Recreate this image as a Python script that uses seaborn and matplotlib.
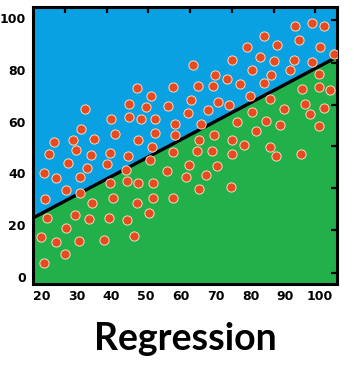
import numpy as np
import pandas as pd
import matplotlib
matplotlib.use("Agg")
import matplotlib.pyplot as plt
import seaborn as sns

# puntos (parte azul, encima de la recta)
x_arriba = [32.4, 45.0, 45.0, 39.9, 31.2, 41.0, 23.5, 28.9, 35.0,
            47.3, 51.4, 57.7, 49.9, 56.3, 48.5, 52.5, 58.3, 52.5, 58.3, 47.6,
            63.5, 74.7, 69.8, 73.2, 69.2, 64.9, 62.9, 70.7, 73.8, 62.0, 67.8, 65.8,
            92.8, 97.7, 101.2, 83.9, 94.0, 79.0, 87.6, 100.0, 82.7, 86.8, 92.5,
            104.0, 97.7, 91.4, 80.4, 85.9, 83.9, 77.0, 79.9,
            51.7, 22.0, 29.8, 34.1, 39.6, 44.8, 27.5, 33.0, 38.7, 20.6, 24.0,
            30.9, 44.2, 26.9, 20.9]
y_arriba = [64.9, 66.8, 61.8, 61.0, 57.1, 55.2, 52.1, 52.9, 53.3,
            73.0, 69.9, 73.4, 65.6, 66.0, 61.0, 61.0, 59.1, 55.6, 54.8, 52.9,
            81.9, 83.8, 78.0, 76.4, 73.7, 73.7, 68.3, 67.6, 66.4, 63.3, 64.5, 59.1,
            96.9, 98.1, 96.9, 93.1, 91.5, 88.8, 89.6, 88.8, 84.9, 83.4, 83.8,
            86.1, 83.0, 79.9, 79.9, 78.0, 74.9, 74.5, 69.9,
            50.2, 47.5, 49.0, 47.1, 47.9, 46.7, 44.0, 42.1, 43.6, 40.2, 38.2,
            38.6, 41.3, 33.6, 30.1]

# puntos de la parte verde, debajo de la recta
x_abajo = [65.2, 69.5, 74.7, 76.1, 99.7, 94.8, 99.7, 102.9, 85.6, 95.7,
           89.6, 101.2, 80.4, 97.1, 84.5, 88.5, 99.7, 81.6, 78.1, 85.6,
           87.3, 94.5, 39.6, 44.5, 30.9, 34.4, 40.4, 21.4, 29.5, 33.5,
           39.3, 44.5, 26.9, 19.7, 24.0, 30.6, 37.8, 46.5, 26.6, 20.6,
           47.6, 51.9, 47.3, 51.9, 57.7, 50.8, 51.1, 57.7, 64.6, 68.9,
           74.7, 62.3, 70.4, 56.0, 61.4, 67.2, 65.2, 74.4]
y_abajo = [52.9, 54.8, 52.9, 59.8, 78.4, 72.6, 73.4, 72.2, 68.7, 66.8,
           64.9, 65.3, 63.7, 62.9, 60.2, 58.7, 58.3, 56.4, 51.0, 50.2,
           46.7, 47.5, 36.3, 37.1, 32.4, 28.6, 30.5, 22.8, 23.9, 22.4,
           22.8, 22.0, 18.9, 15.4, 13.5, 13.9, 14.3, 15.8, 8.9, 5.4,
           36.3, 36.3, 28.6, 30.5, 30.5, 24.7, 45.2, 48.3, 48.6, 48.6,
           47.5, 43.2, 42.9, 40.9, 38.6, 39.4, 34.0, 34.7]

# recta de regresion
intercepto = 10.45
pendiente = 0.71

x_ticks = [20, 30, 40, 50, 60, 70, 80, 90, 100]
y_ticks = [0, 20, 40, 60, 80, 100]
titulo = "Regression"

AZUL = "#0aa1e3"
VERDE = "#22b04b"
ROJO = "#ea4a1f"

sns.set_style("white")
plt.rcParams["text.color"] = "black"
plt.rcParams["xtick.color"] = "black"
plt.rcParams["ytick.color"] = "black"

df = pd.DataFrame({"x": x_arriba + x_abajo, "y": y_arriba + y_abajo})

fig = plt.figure(figsize=(3.54, 3.68), dpi=100)
ax = fig.add_axes([0.093, 0.228, 0.859, 0.753])
xlim = (17.4, 104.9)
ylim = (-2.7, 104.2)

# fondo partido por la recta
xs = np.array(xlim)
recta = intercepto + pendiente * xs
ax.fill_between(xs, recta, ylim[1], color=AZUL, lw=0, zorder=0)
ax.fill_between(xs, ylim[0], recta, color=VERDE, lw=0, zorder=0)

sns.lineplot(x=xs, y=recta, color="black", lw=2.4, ax=ax, zorder=2)
sns.scatterplot(data=df, x="x", y="y", s=44, color=ROJO,
                edgecolor="#f4dcc0", linewidth=0.7, ax=ax, zorder=3)

ax.set_xlim(*xlim)
ax.set_ylim(*ylim)
ax.set_xlabel("")
ax.set_ylabel("")

for sp in ax.spines.values():
    sp.set_linewidth(2.2)
    sp.set_color("black")

ax.set_xticks(x_ticks)
ax.set_xticklabels([str(t) for t in x_ticks], fontsize=9, fontweight="bold")
ax.set_yticks(y_ticks)
ax.set_yticklabels([str(t) for t in y_ticks], fontsize=9, fontweight="bold")
ax.tick_params(axis="x", length=0, pad=4, labelcolor="black")
ax.tick_params(axis="y", direction="inout", length=8, width=1.6, pad=1,
               labelcolor="black")

# marcas sueltas del dibujo original
ax.set_xticks([30, 42, 54, 66, 78, 90, 102], minor=True)
ax.tick_params(axis="x", which="minor", direction="in", length=6, width=1.6)
arriba = ax.secondary_xaxis("top")
arriba.set_xticks([26.6, 38.7, 50.5, 62.6, 74.7, 86.8, 98.6])
arriba.set_xticklabels([])
arriba.tick_params(direction="in", length=4, width=1.6)
arriba.spines["top"].set_visible(False)
derecha = ax.secondary_yaxis("right")
derecha.set_yticks([1.5, 18, 34.5, 50.5, 66.5, 82.5, 99])
derecha.set_yticklabels([])
derecha.tick_params(direction="in", length=4, width=1.6)
derecha.spines["right"].set_visible(False)

fig.text(0.524, 0.049, titulo, ha="center", va="baseline", color="black",
         fontsize=27, fontweight="bold", family="Lato")

fig.savefig("out.png", dpi=100)
